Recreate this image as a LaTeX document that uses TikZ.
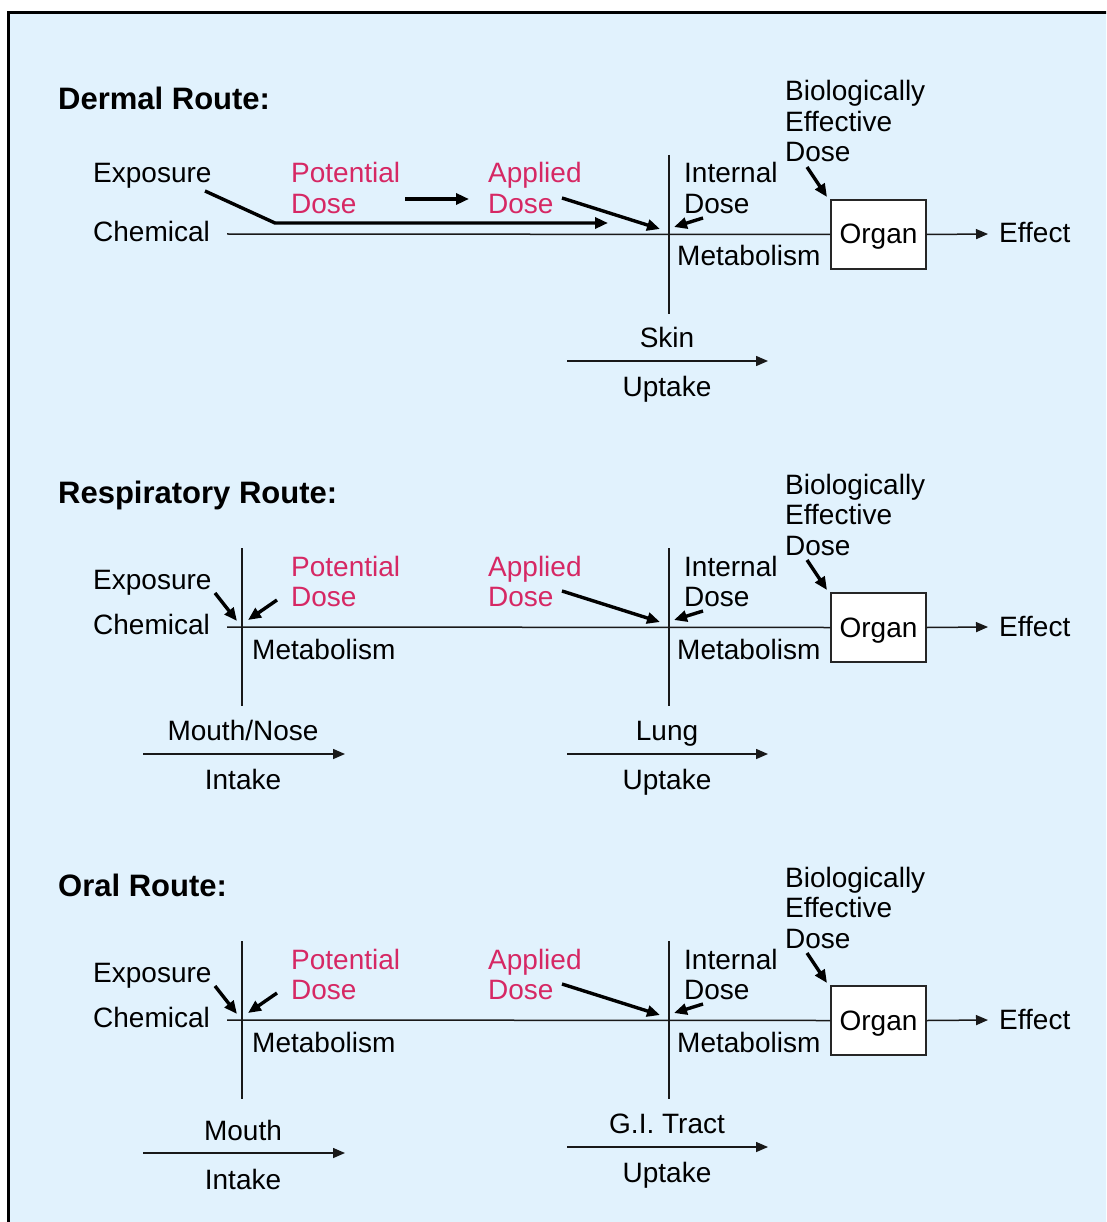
\documentclass[tikz,border=0pt]{standalone}
\usepackage{fontspec}
\setmainfont{Liberation Sans}
\usetikzlibrary{arrows.meta}
\definecolor{bgblue}{RGB}{225,242,253}
\definecolor{dosepink}{RGB}{214,40,100}
\newcommand\mlines[1]{\begin{tabular}[t]{@{}l@{}}#1\end{tabular}}
\begin{document}
\begin{tikzpicture}[x=1pt,y=-1pt,
  txt/.style={font=\fontsize{28}{30.5}\selectfont, inner sep=0pt, anchor=base west},
  ctxt/.style={font=\fontsize{28}{30.5}\selectfont, inner sep=0pt, anchor=base},
  pinktxt/.style={text=dosepink},
  ttl/.style={font=\fontsize{31}{34}\selectfont\bfseries, inner sep=0pt, anchor=base west},
  thinline/.style={line width=1.5pt, draw=black!90},
  thinarrow/.style={thinline, -{Triangle[length=12pt,width=10pt]}},
  thickarrow/.style={line width=3.4pt, -{Triangle[length=13pt,width=11pt]}},
  organbox/.style={draw=black!85, fill=white, line width=1.4pt, minimum width=95pt,
    minimum height=69pt, inner sep=0pt, text height=24pt, text depth=5pt,
    font=\fontsize{28}{30}\selectfont}]
\path[use as bounding box, clip] (0,0) rectangle (1106,1222);
\fill[white] (0,0) rectangle (1106,1222);
\fill[bgblue] (8,13) rectangle (1130,1240);
\draw[line width=3pt] (8,1240) -- (8,13) -- (1130,13);

% ================= Dermal route =================
\node[ttl] (dTitle) at (58,110) {Dermal Route:};
\node[txt] (dExp) at (93,183) {Exposure};
\node[txt] (dChem) at (93,242) {Chemical};
\node[txt,pinktxt] (dPot) at (291,183) {\mlines{Potential\\Dose}};
\node[txt,pinktxt] (dApp) at (488,183) {\mlines{Applied\\Dose}};
\node[txt] (dInt) at (684,183) {\mlines{Internal\\Dose}};
\node[txt] (dMet) at (677,266) {Metabolism};
\node[txt] (dBED) at (785,101) {\mlines{Biologically\\Effective\\Dose}};
\node[organbox] (dOrg) at (878.5,234.5) {Organ};
\node[txt] (dEff) at (999,243) {Effect};
\node[ctxt] (dSkin) at (667,347) {Skin};
\node[ctxt] (dUpt) at (667,396) {Uptake};

\coordinate (dL) at (227,234);
\coordinate (dVt) at (669,155);
\coordinate (dVb) at (669,314);
\coordinate (dEffA) at (988,234);
\coordinate (dExpS) at (205,191);
\coordinate (dBend) at (275,223);
\coordinate (dChemT) at (608,223);
\coordinate (dPotS) at (405,199);
\coordinate (dPotT) at (469,199);
\coordinate (dAppS) at (562,198);
\coordinate (dAppT) at (660,229);
\coordinate (dIntS) at (703,218);
\coordinate (dIntT) at (674,227);
\coordinate (dBedS) at (807,167);
\coordinate (dBedT) at (827,197);
\coordinate (dUpS) at (567,361);
\coordinate (dUpT) at (768,361);

\draw[thinline] (dL) -- (dOrg.west);
\draw[thinline] (dVt) -- (dVb);
\draw[thinarrow] (dOrg.east) -- (dEffA);
\draw[thickarrow] (dExpS) -- (dBend) -- (dChemT);
\draw[thickarrow] (dPotS) -- (dPotT);
\draw[thickarrow] (dAppS) -- (dAppT);
\draw[thickarrow] (dIntS) -- (dIntT);
\draw[thickarrow] (dBedS) -- (dBedT);
\draw[thinarrow] (dUpS) -- (dUpT);

% ================= Respiratory route =================
\node[ttl] (rTitle) at (58,503) {Respiratory Route:};
\node[txt] (rExp) at (93,589) {Exposure};
\node[txt] (rChem) at (93,634) {Chemical};
\node[txt,pinktxt] (rPot) at (291,576) {\mlines{Potential\\Dose}};
\node[txt] (rMet1) at (252,659) {Metabolism};
\node[txt,pinktxt] (rApp) at (488,576) {\mlines{Applied\\Dose}};
\node[txt] (rInt) at (684,576) {\mlines{Internal\\Dose}};
\node[txt] (rMet2) at (677,659) {Metabolism};
\node[txt] (rBED) at (785,494) {\mlines{Biologically\\Effective\\Dose}};
\node[organbox] (rOrg) at (878.5,627.5) {Organ};
\node[txt] (rEff) at (999,636) {Effect};
\node[ctxt] (rMN) at (243,740) {Mouth/Nose};
\node[ctxt] (rIntk) at (243,789) {Intake};
\node[ctxt] (rLung) at (667,740) {Lung};
\node[ctxt] (rUpt) at (667,789) {Uptake};

\coordinate (rL) at (227,627);
\coordinate (rV1t) at (242,548);
\coordinate (rV1b) at (242,706);
\coordinate (rV2t) at (669,548);
\coordinate (rV2b) at (669,706);
\coordinate (rEffA) at (988,627);
\coordinate (rExpS) at (215,593);
\coordinate (rExpT) at (237,621);
\coordinate (rPotS) at (277,600);
\coordinate (rPotT) at (248,620);
\coordinate (rAppS) at (562,591);
\coordinate (rAppT) at (660,622);
\coordinate (rIntS) at (703,611);
\coordinate (rIntT) at (674,620);
\coordinate (rBedS) at (807,560);
\coordinate (rBedT) at (827,590);
\coordinate (rInS) at (143,754);
\coordinate (rInT) at (345,754);
\coordinate (rUpS) at (567,754);
\coordinate (rUpT) at (768,754);

\draw[thinline] (rL) -- (rOrg.west);
\draw[thinline] (rV1t) -- (rV1b);
\draw[thinline] (rV2t) -- (rV2b);
\draw[thinarrow] (rOrg.east) -- (rEffA);
\draw[thickarrow] (rExpS) -- (rExpT);
\draw[thickarrow] (rPotS) -- (rPotT);
\draw[thickarrow] (rAppS) -- (rAppT);
\draw[thickarrow] (rIntS) -- (rIntT);
\draw[thickarrow] (rBedS) -- (rBedT);
\draw[thinarrow] (rInS) -- (rInT);
\draw[thinarrow] (rUpS) -- (rUpT);

% ================= Oral route =================
\node[ttl] (oTitle) at (58,896) {Oral Route:};
\node[txt] (oExp) at (93,982) {Exposure};
\node[txt] (oChem) at (93,1027) {Chemical};
\node[txt,pinktxt] (oPot) at (291,969) {\mlines{Potential\\Dose}};
\node[txt] (oMet1) at (252,1052) {Metabolism};
\node[txt,pinktxt] (oApp) at (488,969) {\mlines{Applied\\Dose}};
\node[txt] (oInt) at (684,969) {\mlines{Internal\\Dose}};
\node[txt] (oMet2) at (677,1052) {Metabolism};
\node[txt] (oBED) at (785,887) {\mlines{Biologically\\Effective\\Dose}};
\node[organbox] (oOrg) at (878.5,1020.5) {Organ};
\node[txt] (oEff) at (999,1029) {Effect};
\node[ctxt] (oMouth) at (243,1140) {Mouth};
\node[ctxt] (oIntk) at (243,1189) {Intake};
\node[ctxt] (oGI) at (667,1133) {G.I. Tract};
\node[ctxt] (oUpt) at (667,1182) {Uptake};

\coordinate (oL) at (227,1020);
\coordinate (oV1t) at (242,941);
\coordinate (oV1b) at (242,1099);
\coordinate (oV2t) at (669,941);
\coordinate (oV2b) at (669,1099);
\coordinate (oEffA) at (988,1020);
\coordinate (oExpS) at (215,986);
\coordinate (oExpT) at (237,1014);
\coordinate (oPotS) at (277,993);
\coordinate (oPotT) at (248,1013);
\coordinate (oAppS) at (562,984);
\coordinate (oAppT) at (660,1015);
\coordinate (oIntS) at (703,1004);
\coordinate (oIntT) at (674,1013);
\coordinate (oBedS) at (807,953);
\coordinate (oBedT) at (827,983);
\coordinate (oInS) at (143,1153);
\coordinate (oInT) at (345,1153);
\coordinate (oUpS) at (567,1147);
\coordinate (oUpT) at (768,1147);

\draw[thinline] (oL) -- (oOrg.west);
\draw[thinline] (oV1t) -- (oV1b);
\draw[thinline] (oV2t) -- (oV2b);
\draw[thinarrow] (oOrg.east) -- (oEffA);
\draw[thickarrow] (oExpS) -- (oExpT);
\draw[thickarrow] (oPotS) -- (oPotT);
\draw[thickarrow] (oAppS) -- (oAppT);
\draw[thickarrow] (oIntS) -- (oIntT);
\draw[thickarrow] (oBedS) -- (oBedT);
\draw[thinarrow] (oInS) -- (oInT);
\draw[thinarrow] (oUpS) -- (oUpT);
\end{tikzpicture}
\end{document}
